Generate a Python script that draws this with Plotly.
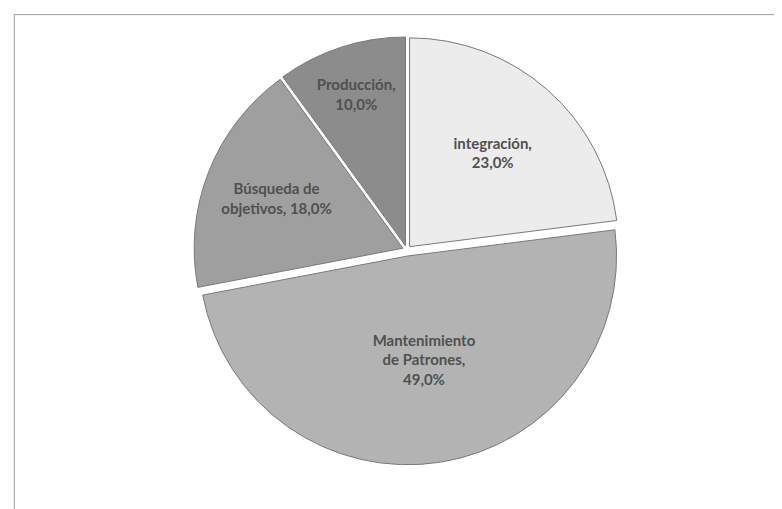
import plotly.graph_objects as go

# slices, clockwise from 12 o'clock
labels = ["integración", "Mantenimiento de Patrones", "Búsqueda de objetivos", "Producción"]
values = [23.0, 49.0, 18.0, 10.0]
label_lines = ["integración,", "Mantenimiento<br>de Patrones,", "Búsqueda de<br>objetivos,", "Producción,"]
colors = ["#ececec", "#b3b3b3", "#9f9f9f", "#8c8c8c"]


def pct(v):
    return "{:.1f}%".format(v).replace(".", ",")


texts = []
for name, v in zip(label_lines, values):
    if name.startswith("Búsqueda"):
        texts.append("<b>" + name + " " + pct(v) + "</b>")
    else:
        texts.append("<b>" + name + "<br>" + pct(v) + "</b>")

fig = go.Figure(
    go.Pie(
        labels=labels,
        values=values,
        text=texts,
        textinfo="text",
        textposition="inside",
        insidetextorientation="horizontal",
        sort=False,
        direction="clockwise",
        rotation=0,
        pull=[0.02, 0.03, 0.02, 0.02],
        marker=dict(colors=colors, line=dict(color="#7a7a7a", width=1)),
        textfont=dict(family="Lato, Open Sans, sans-serif", size=15, color="#505050"),
        hoverinfo="label+percent",
        domain=dict(x=[0.235, 0.785], y=[0.1, 0.95]),
    )
)

fig.update_layout(
    width=782,
    height=509,
    margin=dict(l=0, r=0, t=0, b=0),
    paper_bgcolor="white",
    showlegend=False,
    shapes=[
        dict(type="line", xref="paper", yref="paper", x0=0.008, x1=0.008, y0=0, y1=0.987,
             line=dict(color="#9a9a9a", width=1)),
        dict(type="line", xref="paper", yref="paper", x0=0.008, x1=0.99, y0=0.987, y1=0.987,
             line=dict(color="#9a9a9a", width=1)),
    ],
)

fig.write_html("out.html")
